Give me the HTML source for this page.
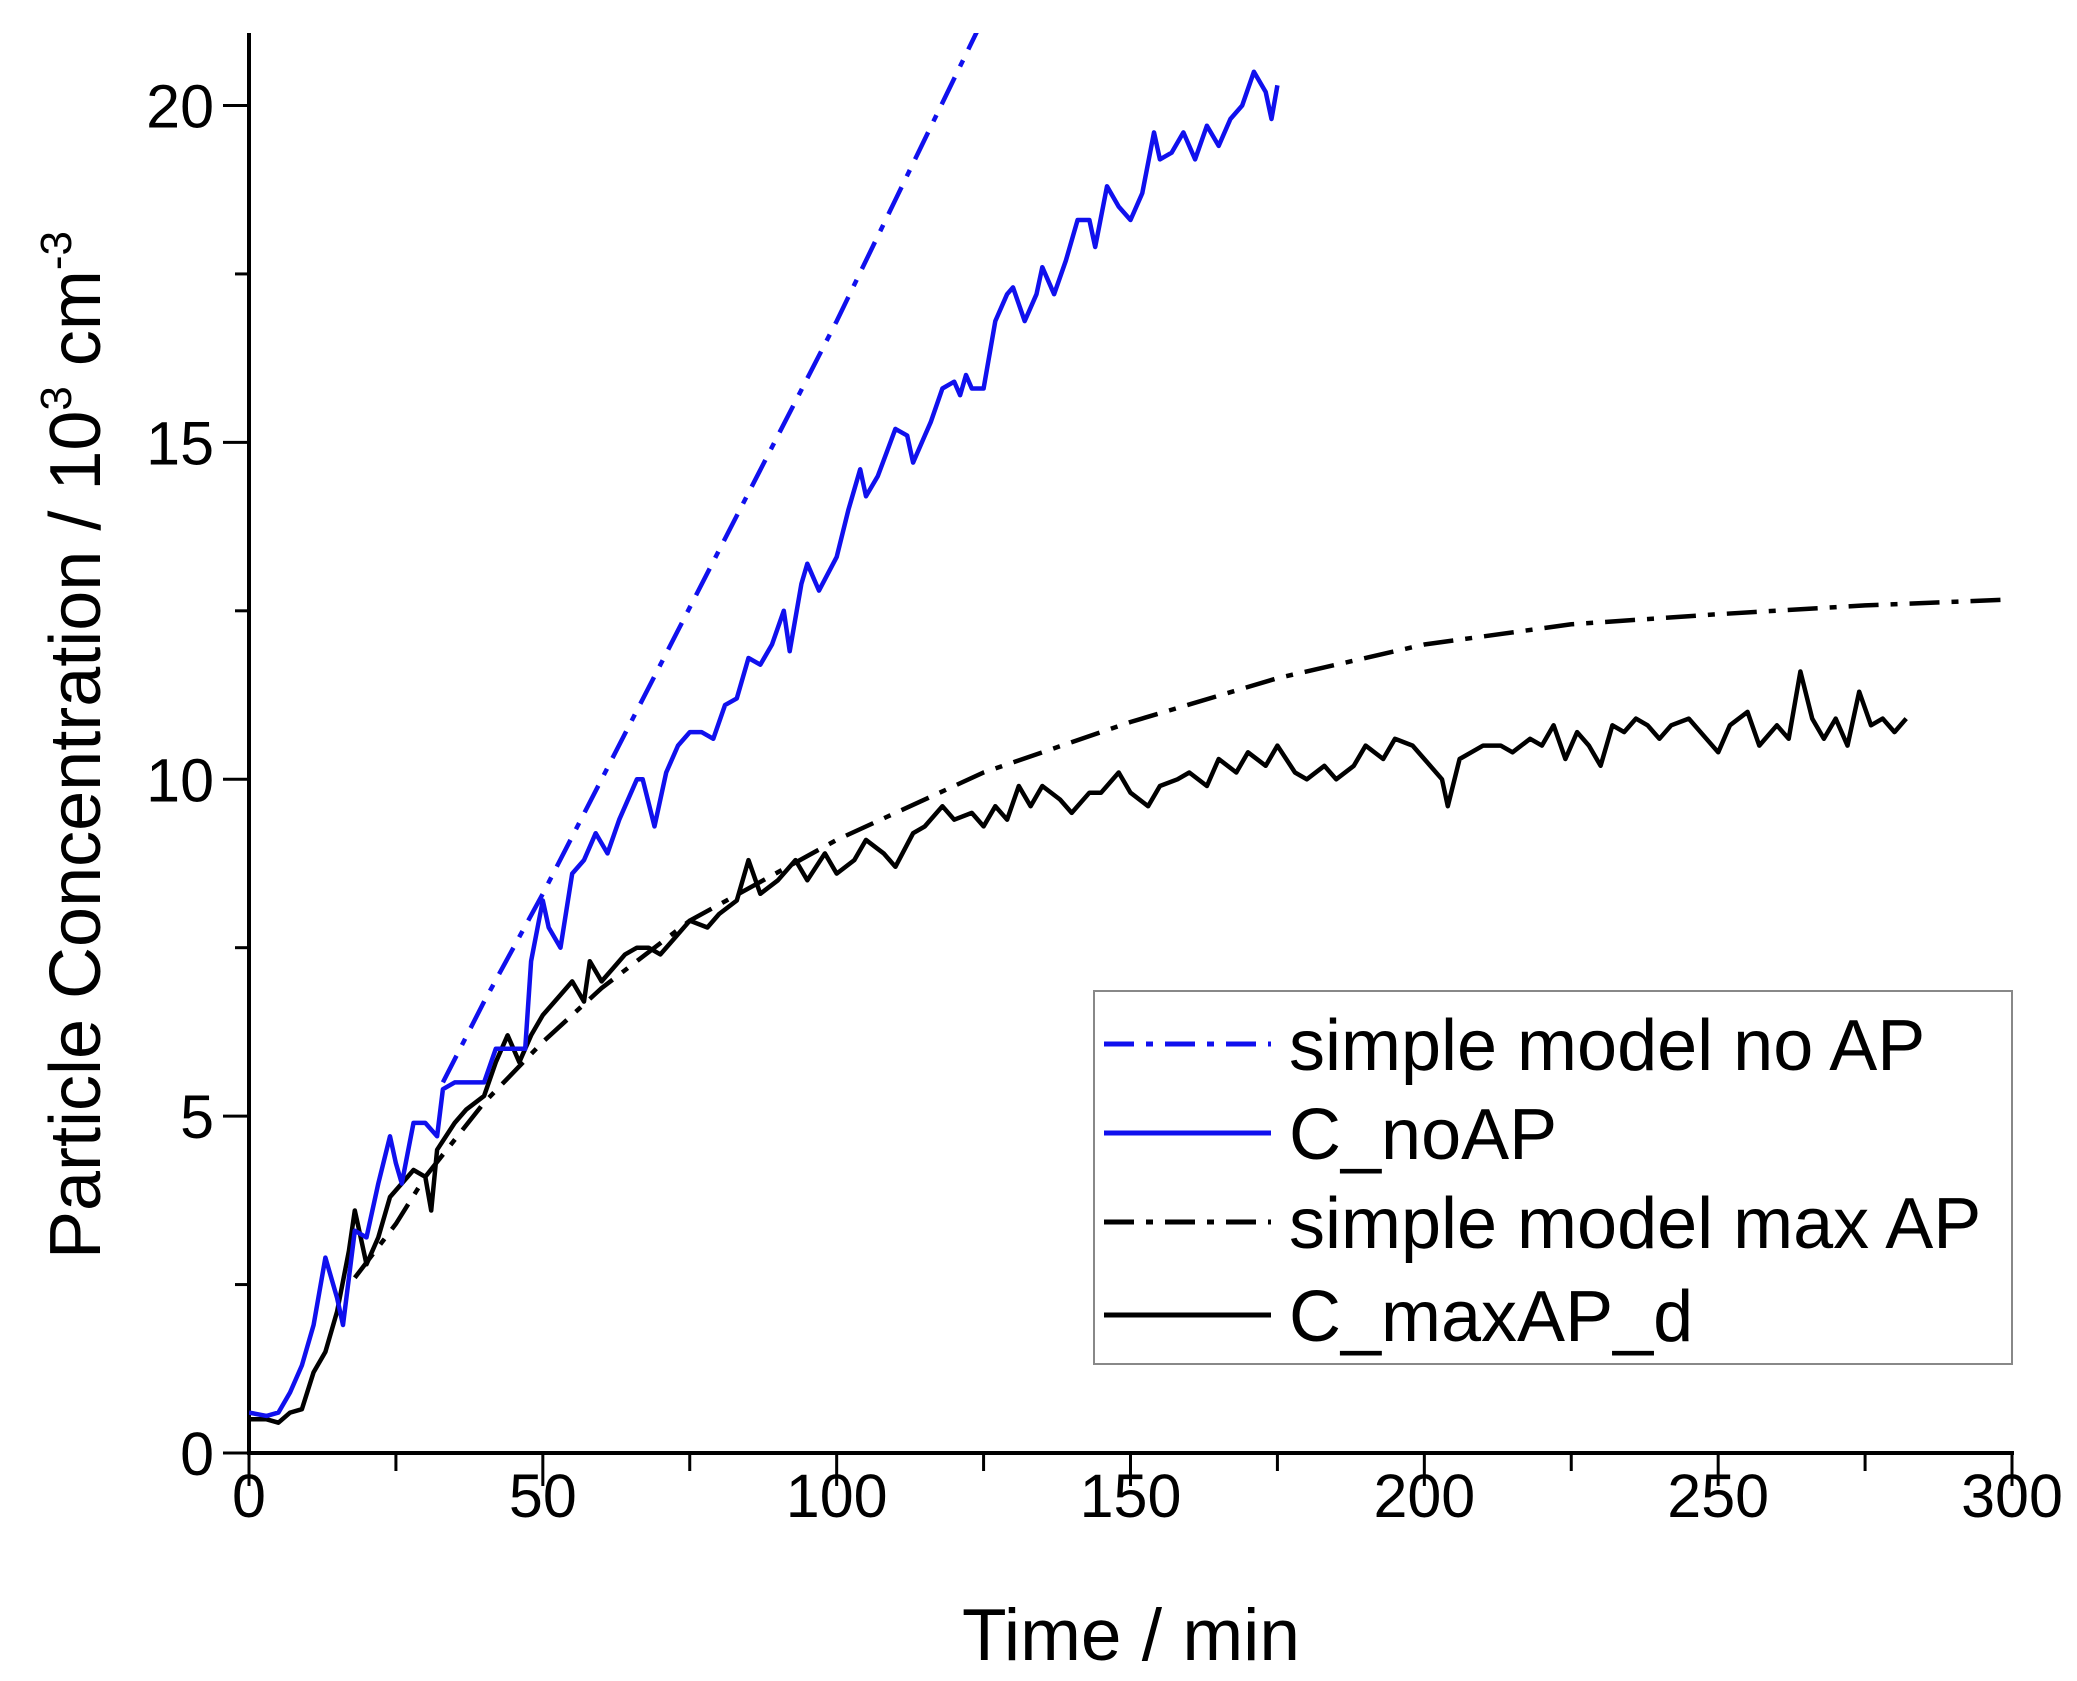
<!DOCTYPE html>
<html><head><meta charset="utf-8"><style>
html,body{margin:0;padding:0;background:#fff;}
svg{display:block;font-family:"Liberation Sans",Arial,sans-serif;}
</style></head><body>
<svg id="chart" width="2077" height="1681" viewBox="0 0 2077 1681">
<g id="axes"></g>
<defs><clipPath id="plotclip"><rect x="249" y="33" width="1763" height="1420"/></clipPath></defs>
<g id="series" clip-path="url(#plotclip)"></g>
<text x="1131" y="1660" font-size="73" text-anchor="middle">Time / min</text>
<text transform="translate(100,745) rotate(-90)" font-size="72" text-anchor="middle">Particle Concentration / 10<tspan font-size="44" dy="-29">3</tspan><tspan dy="29"> cm</tspan><tspan font-size="44" dy="-29">-3</tspan></text>
<g id="legend">
<rect x="1094" y="991" width="918" height="373" fill="#fff" stroke="#888" stroke-width="2"/>
</g>
</svg>
<script>
const xTicks=[0,50,100,150,200,250,300];
const yTicks=[0,5,10,15,20];
const modelNoAPx=[33,40,50,60,70,80,90,100,110,120,125];
const modelNoAPy=[5.5,6.7,8.3,10.0,11.7,13.4,15.1,16.8,18.6,20.4,21.3];
const modelMaxAPx=[18,25,30,40,50,60,75,100,125,150,175,200,225,250,275,300];
const modelMaxAPy=[2.6,3.4,4.1,5.2,6.1,6.9,7.9,9.1,10.1,10.85,11.5,12.0,12.3,12.45,12.58,12.67];
const noAPx=[0,3,5,7,9,11,13,15,16,18,20,22,24,25,26,28,30,32,33,35,37,40,42,45,47,48,50,51,53,55,57,59,61,63,66,67,69,71,73,75,77,79,81,83,85,87,89,91,92,94,95,97,100,102,104,105,107,110,112,113,115,116,118,120,121,122,123,125,127,129,130,132,134,135,137,139,141,143,144,146,148,150,152,154,155,157,159,161,163,165,167,169,171,173,174,175];
const noAPy=[0.6,0.55,0.6,0.9,1.3,1.9,2.9,2.3,1.9,3.3,3.2,4.0,4.7,4.3,4.0,4.9,4.9,4.7,5.4,5.5,5.5,5.5,6.0,6.0,6.0,7.3,8.2,7.8,7.5,8.6,8.8,9.2,8.9,9.4,10.0,10.0,9.3,10.1,10.5,10.7,10.7,10.6,11.1,11.2,11.8,11.7,12.0,12.5,11.9,12.9,13.2,12.8,13.3,14.0,14.6,14.2,14.5,15.2,15.1,14.7,15.1,15.3,15.8,15.9,15.7,16.0,15.8,15.8,16.8,17.2,17.3,16.8,17.2,17.6,17.2,17.7,18.3,18.3,17.9,18.8,18.5,18.3,18.7,19.6,19.2,19.3,19.6,19.2,19.7,19.4,19.8,20.0,20.5,20.2,19.8,20.3];
const maxAPx=[0,3,5,7,9,11,13,15,17,18,19,20,22,24,26,28,30,31,32,35,37,40,42,44,46,48,50,53,55,57,58,60,62,64,66,68,70,72,75,78,80,83,85,87,90,93,95,98,100,103,105,108,110,113,115,118,120,123,125,127,129,131,133,135,138,140,143,145,148,150,153,155,158,160,163,165,168,170,173,175,178,180,183,185,188,190,193,195,198,200,203,204,206,208,210,213,215,218,220,222,224,226,228,230,232,234,236,238,240,242,245,248,250,252,255,257,260,262,264,266,268,270,272,274,276,278,280,282];
const maxAPy=[0.5,0.5,0.45,0.6,0.65,1.2,1.5,2.1,3.0,3.6,3.2,2.8,3.2,3.8,4.0,4.2,4.1,3.6,4.5,4.9,5.1,5.3,5.8,6.2,5.8,6.2,6.5,6.8,7.0,6.7,7.3,7.0,7.2,7.4,7.5,7.5,7.4,7.6,7.9,7.8,8.0,8.2,8.8,8.3,8.5,8.8,8.5,8.9,8.6,8.8,9.1,8.9,8.7,9.2,9.3,9.6,9.4,9.5,9.3,9.6,9.4,9.9,9.6,9.9,9.7,9.5,9.8,9.8,10.1,9.8,9.6,9.9,10.0,10.1,9.9,10.3,10.1,10.4,10.2,10.5,10.1,10.0,10.2,10.0,10.2,10.5,10.3,10.6,10.5,10.3,10.0,9.6,10.3,10.4,10.5,10.5,10.4,10.6,10.5,10.8,10.3,10.7,10.5,10.2,10.8,10.7,10.9,10.8,10.6,10.8,10.9,10.6,10.4,10.8,11.0,10.5,10.8,10.6,11.6,10.9,10.6,10.9,10.5,11.3,10.8,10.9,10.7,10.9];

const NS='http://www.w3.org/2000/svg';
const X0=249,X1=2012,Y0=1453,Y1=105.5;
const sx=v=>X0+(v/300)*(X1-X0);
const sy=v=>Y0-(v/20)*(Y0-Y1);
function mk(tag,attrs,parent){const e=document.createElementNS(NS,tag);for(const k in attrs)e.setAttribute(k,attrs[k]);parent.appendChild(e);return e;}
const axes=document.getElementById('axes');
const series=document.getElementById('series');
const legend=document.getElementById('legend');

let l=mk('line',{x1:X0,y1:33,x2:X0,y2:Y0+2,stroke:'#000','stroke-width':4},axes);


l=mk('line',{x1:X0-2,y1:Y0,x2:X1+2,y2:Y0,stroke:'#000','stroke-width':4},axes);



xTicks.forEach((t,i)=>{
  const x=sx(t);
  let tk=mk('line',{x1:x,y1:Y0,x2:x,y2:Y0+33,stroke:'#000','stroke-width':3},axes);
  
  
  if(i<xTicks.length-1){
    let m=mk('line',{x1:sx(t+25),y1:Y0,x2:sx(t+25),y2:Y0+18,stroke:'#000','stroke-width':3},axes);
    
    
  }
  let tx=mk('text',{x:x,y:Y0+64,'font-size':61,'text-anchor':'middle'},axes);
  tx.textContent=t;
  
  
});
yTicks.forEach((t,i)=>{
  const y=sy(t);
  let tk=mk('line',{x1:X0-26,y1:y,x2:X0,y2:y,stroke:'#000','stroke-width':3},axes);
  
  
  let m=mk('line',{x1:X0-14,y1:sy(t+2.5),x2:X0,y2:sy(t+2.5),stroke:'#000','stroke-width':3},axes);
  
  
  let tx=mk('text',{x:X0-35,y:y+22,'font-size':61,'text-anchor':'end'},axes);
  tx.textContent=t;
  
  
});

function path(xs,ys){return xs.map((v,i)=>(i?'L':'M')+sx(v).toFixed(1)+','+sy(ys[i]).toFixed(1)).join('');}
const dashDot='30,12,7,12';
let p=mk('path',{d:path(modelMaxAPx,modelMaxAPy),fill:'none',stroke:'#000','stroke-width':4.5,'stroke-dasharray':dashDot},series);


p=mk('path',{d:path(maxAPx,maxAPy),fill:'none',stroke:'#000','stroke-width':4.5,'stroke-linejoin':'round'},series);


p=mk('path',{d:path(modelNoAPx,modelNoAPy),fill:'none',stroke:'#1010ee','stroke-width':4.5,'stroke-dasharray':dashDot},series);


p=mk('path',{d:path(noAPx,noAPy),fill:'none',stroke:'#1010ee','stroke-width':4.5,'stroke-linejoin':'round'},series);



const legLabels=['simple model no AP','C_noAP','simple model max AP','C_maxAP_d'];
const legColors=['#1010ee','#1010ee','#000','#000'];
const legDash=[dashDot,'none',dashDot,'none'];
const legY=[1044,1133,1222,1315];
legLabels.forEach((lab,i)=>{
  let ln=mk('line',{x1:1104,y1:legY[i],x2:1271,y2:legY[i],stroke:legColors[i],'stroke-width':5,'stroke-dasharray':legDash[i]},legend);
  
  
  let tx=mk('text',{x:1289,y:legY[i]+26,'font-size':72},legend);
  tx.textContent=lab;
  
  
});
</script>
</body></html>
